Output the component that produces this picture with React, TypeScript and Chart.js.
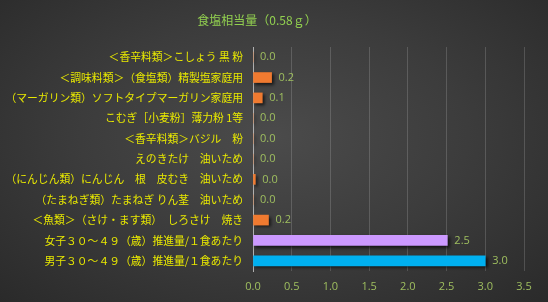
import React, { useEffect, useRef } from "react";
import { Chart, registerables } from "chart.js";

Chart.register(...registerables);

const TITLE = "食塩相当量（0.58ｇ）";

const categories = [
  "＜香辛料類＞こしょう 黒 粉",
  "＜調味料類＞（食塩類）精製塩家庭用",
  "（マーガリン類）ソフトタイプマーガリン家庭用",
  "こむぎ［小麦粉］薄力粉 1等",
  "＜香辛料類＞バジル　粉",
  "えのきたけ　油いため",
  "（にんじん類）にんじん　根　皮むき　油いため",
  "（たまねぎ類）たまねぎ りん茎　油いため",
  "＜魚類＞（さけ・ます類）　しろさけ　焼き",
  "女子３０～４９（歳）推進量/１食あたり",
  "男子３０～４９（歳）推進量/１食あたり",
];

const values = [0.0, 0.24, 0.12, 0.0, 0.0, 0.0, 0.03, 0.0, 0.2, 2.51, 3.0];

const xTicks = [0, 0.5, 1.0, 1.5, 2.0, 2.5, 3.0, 3.5];

const ORANGE = "#f07a30";
const PURPLE = "#cc99ff";
const BLUE = "#00b0f0";
const barColors = [
  ORANGE, ORANGE, ORANGE, ORANGE, ORANGE, ORANGE, ORANGE, ORANGE, ORANGE, PURPLE, BLUE,
];

const JP = '"Noto Sans CJK JP", "Noto Sans", sans-serif';
const NUM = '"Open Sans", "Noto Sans", sans-serif';

export default function App() {
  const ref = useRef<HTMLCanvasElement | null>(null);

  useEffect(() => {
    if (!ref.current) return;

    const shadowPlugin = {
      id: "barShadow",
      beforeDatasetsDraw(chart: any) {
        const ctx = chart.ctx;
        ctx.save();
        ctx.shadowColor = "rgba(0,0,0,0.65)";
        ctx.shadowOffsetX = 2;
        ctx.shadowOffsetY = 2;
        ctx.shadowBlur = 3;
      },
      afterDatasetsDraw(chart: any) {
        const ctx = chart.ctx;
        ctx.restore();
        const meta = chart.getDatasetMeta(0);
        ctx.save();
        ctx.font = `11px ${NUM}`;
        ctx.fillStyle = "#9fbf5f";
        ctx.textAlign = "left";
        ctx.textBaseline = "middle";
        meta.data.forEach((bar: any, i: number) => {
          const v = chart.data.datasets[0].data[i] as number;
          ctx.fillText(v.toFixed(1), bar.x + 7, bar.y);
        });
        ctx.restore();
      },
    };

    const titlePlugin = {
      id: "customTitle",
      afterDraw(chart: any) {
        const ctx = chart.ctx;
        ctx.save();
        ctx.font = `12px ${JP}`;
        ctx.fillStyle = "#92d050";
        ctx.textAlign = "center";
        ctx.textBaseline = "middle";
        ctx.fillText(TITLE, 257, 20);
        ctx.restore();
      },
    };

    const chart = new Chart(ref.current, {
      type: "bar",
      data: {
        labels: categories,
        datasets: [
          {
            data: values,
            backgroundColor: barColors,
            borderWidth: 0,
            barThickness: 10,
          },
        ],
      },
      options: {
        indexAxis: "y",
        responsive: false,
        animation: false,
        devicePixelRatio: 1,
        layout: { padding: { top: 47, right: 24, left: 0, bottom: 0 } },
        plugins: {
          legend: { display: false },
          title: { display: false },
          tooltip: { enabled: false },
        },
        scales: {
          x: {
            min: 0,
            max: 3.5,
            afterFit(scale: any) {
              scale.height = 31;
            },
            afterBuildTicks(scale: any) {
              scale.ticks = xTicks.map((v) => ({ value: v }));
            },
            ticks: {
              color: "#9fbf5f",
              font: { size: 11, family: NUM },
              padding: 9,
              callback: (v: any) => Number(v).toFixed(1),
            },
            grid: { color: "rgba(255,255,255,0.16)", drawTicks: false },
            border: { display: false },
          },
          y: {
            afterFit(scale: any) {
              scale.width = 253;
            },
            ticks: {
              color: "#e8e800",
              font: { size: 10.8, family: JP },
              padding: 10,
              autoSkip: false,
            },
            grid: { display: false, drawTicks: false },
            border: { display: true, color: "#b0b0b0", width: 1 },
          },
        },
      },
      plugins: [shadowPlugin, titlePlugin],
    });

    return () => chart.destroy();
  }, []);

  return (
    <div
      style={{
        position: "fixed",
        left: 0,
        top: 0,
        width: 548,
        height: 302,
        background:
          "radial-gradient(ellipse at 50% 45%, #4b4b4b 0%, #3c3c3c 50%, #2a2a2a 100%)",
      }}
    >
      <canvas ref={ref} width={548} height={302} style={{ display: "block" }} />
    </div>
  );
}
